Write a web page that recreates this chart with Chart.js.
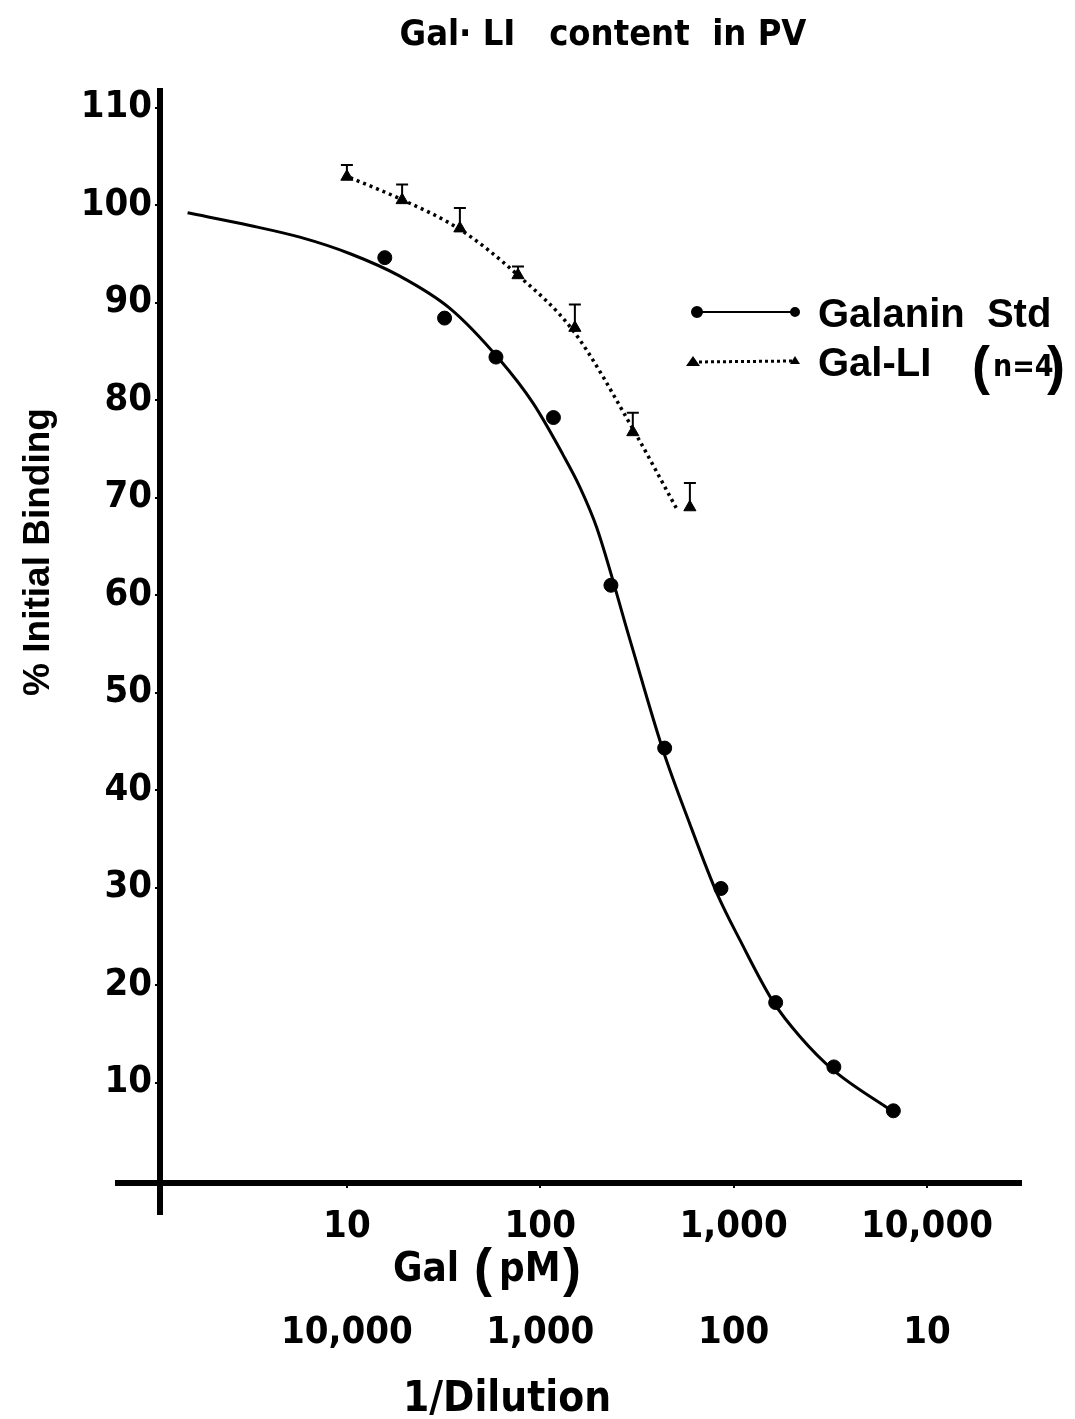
<!DOCTYPE html>
<html>
<head>
<meta charset="utf-8">
<title>Gal-LI content in PV</title>
<script src="https://cdn.jsdelivr.net/npm/chart.js@4.4.0/dist/chart.umd.min.js"></script>
<style>
  html, body { margin: 0; padding: 0; background: #fff; }
  #wrap { width: 1075px; height: 1419px; position: relative; }
</style>
</head>
<body>
<div id="wrap"><canvas id="chart"></canvas></div>
<script>
// Galanin standard - measured points
const stdConc = [15.7, 32, 59, 117, 232, 440, 860, 1650, 3300, 6700];
const stdBinding = [94.6, 88.4, 84.4, 78.2, 61.0, 44.3, 29.9, 18.2, 11.6, 7.1];

// solid curve drawn through the standard
const fitConc = [1.5, 3.15, 5.71, 10.4, 18.8, 34.1, 61.9, 91.6, 131, 160, 196, 291, 431, 594, 820, 1079, 1600, 2207, 3266, 6683];
const fitBinding = [99.2, 97.9, 96.7, 95.0, 92.7, 89.4, 84.1, 79.7, 74.4, 71.1, 66.9, 55.4, 44.1, 36.5, 29.4, 24.6, 18.3, 14.7, 11.3, 7.0];

// Gal-LI in PV (n=4): mean and top of error bar
const liConc = [10, 19.3, 38.4, 76.7, 151, 301, 594];
const liBinding = [102.9, 100.5, 97.6, 92.8, 87.4, 76.7, 69.0];
const liErrTop = [104.1, 102.1, 99.7, 93.7, 89.8, 78.7, 71.5];

// dotted curve through Gal-LI
const liFitConc = [10.4, 19.5, 38.4, 75.7, 148, 302, 509];
const liFitBinding = [102.8, 100.5, 97.5, 92.9, 87.1, 77.0, 68.8];

// axis ticks
const galTicks = [10, 100, 1000, 10000];
const dilutionTicks = [10, 100, 1000, 10000];
const yTicks = [10, 20, 30, 40, 50, 60, 70, 80, 90, 100, 110];

const NARROW = "'Liberation Sans Narrow', 'DejaVu Sans Condensed', 'Liberation Sans', sans-serif";
const SANS = "'Liberation Sans', Arial, sans-serif";

function toXY(xs, ys) {
    return xs.map((v, i) => ({ x: v, y: ys[i] }));
}

function fmt(v) {
    return Number(v).toLocaleString('en-US');
}

// error bars, axis lines, legend and titles
const overlay = {
    id: 'overlay',
    afterDatasetsDraw(chart) {
        const { ctx, scales: { x, y } } = chart;
        ctx.save();
        ctx.strokeStyle = '#000';
        ctx.lineWidth = 2;
        liConc.forEach((c, i) => {
            const px = x.getPixelForValue(c);
            const y0 = y.getPixelForValue(liBinding[i]);
            const y1 = y.getPixelForValue(liErrTop[i]);
            ctx.beginPath();
            ctx.moveTo(px, y0);
            ctx.lineTo(px, y1);
            ctx.moveTo(px - 6, y1);
            ctx.lineTo(px + 6, y1);
            ctx.stroke();
        });
        ctx.restore();
    },
    afterDraw(chart) {
        const { ctx, chartArea, scales: { y } } = chart;
        ctx.save();
        ctx.fillStyle = '#000';
        ctx.strokeStyle = '#000';

        // axes
        const base = y.getPixelForValue(0);
        ctx.lineWidth = 6;
        ctx.beginPath();
        ctx.moveTo(115, base + 3);
        ctx.lineTo(chartArea.right, base + 3);
        ctx.moveTo(chartArea.left, y.getPixelForValue(112));
        ctx.lineTo(chartArea.left, base + 35);
        ctx.stroke();

        // title
        ctx.font = 'bold 36px ' + NARROW;
        ctx.textAlign = 'center';
        ctx.textBaseline = 'alphabetic';
        ctx.fillText('Gal\u00b7 LI   content  in PV', 603, 45);

        // y title
        ctx.save();
        ctx.translate(49, 552);
        ctx.rotate(-Math.PI / 2);
        ctx.font = 'bold 37px ' + SANS;
        ctx.fillText('% Initial Binding', 0, 0);
        ctx.restore();

        // x titles
        ctx.textAlign = 'left';
        ctx.font = 'bold 40px ' + NARROW;
        ctx.fillText('Gal', 393, 1281);
        ctx.font = 'bold 54px ' + SANS;
        ctx.fillText('(', 474, 1286);
        ctx.fillText(')', 563, 1286);
        ctx.font = 'bold 40px ' + NARROW;
        ctx.fillText('pM', 499, 1281);
        ctx.textAlign = 'center';
        ctx.font = 'bold 42px ' + NARROW;
        ctx.fillText('1/Dilution', 507, 1411);

        // legend
        ctx.lineWidth = 2;
        ctx.beginPath();
        ctx.moveTo(697, 312);
        ctx.lineTo(795, 312);
        ctx.stroke();
        ctx.beginPath();
        ctx.arc(697, 312, 6, 0, Math.PI * 2);
        ctx.arc(795, 312, 5, 0, Math.PI * 2);
        ctx.fill();

        ctx.setLineDash([3, 3]);
        ctx.lineWidth = 3;
        ctx.beginPath();
        ctx.moveTo(693, 362);
        ctx.lineTo(795, 361);
        ctx.stroke();
        ctx.setLineDash([]);
        ctx.beginPath();
        ctx.moveTo(686, 366); ctx.lineTo(700, 366); ctx.lineTo(693, 356); ctx.closePath();
        ctx.moveTo(790, 364); ctx.lineTo(800, 364); ctx.lineTo(795, 356); ctx.closePath();
        ctx.fill();

        ctx.textAlign = 'left';
        ctx.font = 'bold 40px ' + SANS;
        ctx.fillText('Galanin  Std', 818, 327);
        ctx.fillText('Gal-LI', 818, 376);
        ctx.font = 'bold 54px ' + SANS;
        ctx.fillText('(', 972, 384);
        ctx.fillText(')', 1047, 384);
        ctx.font = 'bold 30px ' + NARROW;
        ctx.fillText('n=4', 993, 376);
        ctx.restore();
    }
};

const tickFont = { family: NARROW, size: 38, weight: 'bold' };

new Chart(document.getElementById('chart'), {
    type: 'scatter',
    data: {
        datasets: [
            {
                label: 'Galanin Std fit',
                data: toXY(fitConc, fitBinding),
                showLine: true,
                borderColor: '#000',
                borderWidth: 3,
                pointRadius: 0,
                cubicInterpolationMode: 'monotone'
            },
            {
                label: 'Galanin Std',
                data: toXY(stdConc, stdBinding),
                showLine: false,
                pointStyle: 'circle',
                pointRadius: 7,
                backgroundColor: '#000',
                borderColor: '#000'
            },
            {
                label: 'Gal-LI fit',
                data: toXY(liFitConc, liFitBinding),
                showLine: true,
                borderColor: '#000',
                borderWidth: 3.5,
                borderDash: [3, 4],
                pointRadius: 0,
                cubicInterpolationMode: 'monotone'
            },
            {
                label: 'Gal-LI (n=4)',
                data: toXY(liConc, liBinding),
                showLine: false,
                pointStyle: 'triangle',
                pointRadius: 7,
                backgroundColor: '#000',
                borderColor: '#000'
            }
        ]
    },
    options: {
        responsive: true,
        maintainAspectRatio: false,
        animation: false,
        layout: { padding: { top: 88, right: 53, left: 0, bottom: 0 } },
        plugins: {
            legend: { display: false },
            title: { display: false },
            tooltip: { enabled: false }
        },
        scales: {
            x: {
                type: 'logarithmic',
                position: 'bottom',
                min: 1.08,
                max: 31000,
                border: { display: false },
                grid: { drawOnChartArea: false, drawTicks: true, tickLength: 8, color: '#000', lineWidth: 2 },
                afterBuildTicks: s => { s.ticks = galTicks.map(v => ({ value: v })); },
                afterFit: s => { s.height = 118; },
                ticks: {
                    color: '#000', font: tickFont, padding: 16,
                    autoSkip: false, maxRotation: 0,
                    callback: v => fmt(v)
                }
            },
            x2: {
                type: 'logarithmic',
                position: 'bottom',
                reverse: true,
                min: 100000 / 31000,
                max: 100000 / 1.08,
                border: { display: false },
                grid: { display: false },
                afterBuildTicks: s => { s.ticks = dilutionTicks.map(v => ({ value: v })); },
                afterFit: s => { s.height = 121; },
                ticks: {
                    color: '#000', font: tickFont, padding: 4,
                    autoSkip: false, maxRotation: 0,
                    callback: v => fmt(v)
                }
            },
            y: {
                min: 0,
                max: 112,
                border: { display: false },
                grid: { drawOnChartArea: false, drawTicks: true, tickLength: 5, color: '#000', lineWidth: 2 },
                afterBuildTicks: s => { s.ticks = yTicks.map(v => ({ value: v })); },
                afterFit: s => { s.width = 160; },
                ticks: { color: '#000', font: tickFont, padding: 3 }
            }
        }
    },
    plugins: [overlay]
});
</script>
</body>
</html>
